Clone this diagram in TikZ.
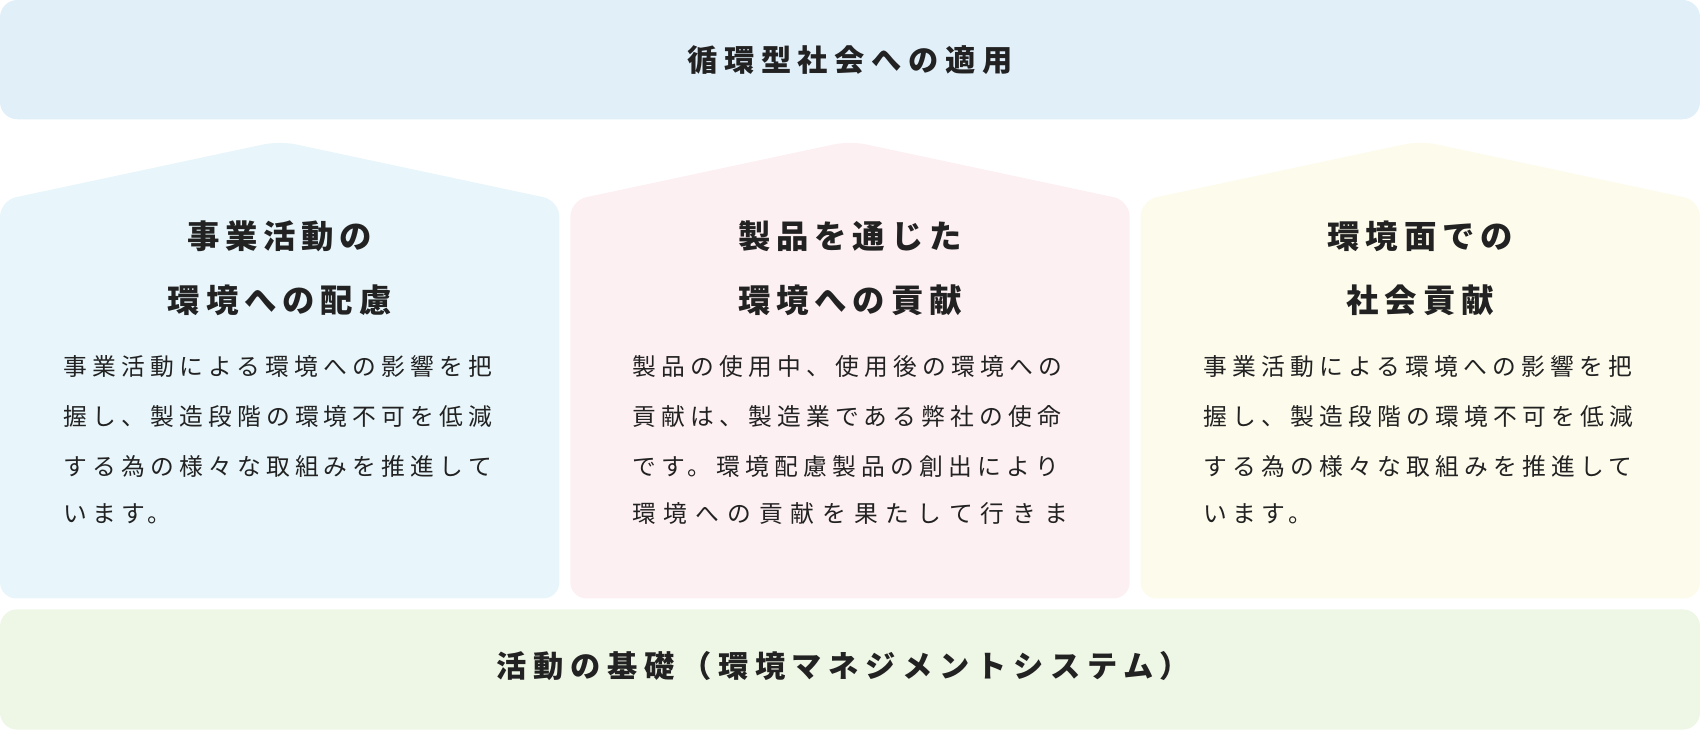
\documentclass[tikz,border=0pt]{standalone}
\usepackage{fontspec}
\setmainfont{Noto Sans CJK JP}
\definecolor{topc}{HTML}{E1EFF9}
\definecolor{bluec}{HTML}{E8F6FB}
\definecolor{pinkc}{HTML}{FDF0F3}
\definecolor{yelc}{HTML}{FDFBEC}
\definecolor{greenc}{HTML}{EEF6E6}
\definecolor{txt}{HTML}{222222}
\tikzset{
 bar/.style={rounded corners=16bp},
 house/.style={rounded corners=15bp},
 bigt/.style={text=txt,font=\fontsize{28}{30}\selectfont\bfseries\addfontfeature{LetterSpace=22},inner sep=0},
 htitle/.style={text=txt,font=\fontsize{30}{32}\selectfont\bfseries\addfontfeature{LetterSpace=18},inner sep=0},
 body/.style={text=txt,font=\fontsize{22}{24}\selectfont\addfontfeature{LetterSpace=22},inner sep=0,anchor=west},
}
\begin{document}
\begin{tikzpicture}[x=1bp,y=-1bp]
\useasboundingbox (0,0) rectangle (1568,673);
\fill[topc,bar] (0,0) rectangle (1568,110);
\fill[greenc,bar] (0,562) rectangle (1568,673);
\fill[bluec,house] (0,552)--(0,185)--(258,130)--(516,185)--(516,552)--cycle;
\fill[pinkc,house] (526,552)--(526,185)--(784,130)--(1042,185)--(1042,552)--cycle;
\fill[yelc,house] (1052,552)--(1052,185)--(1310,130)--(1568,185)--(1568,552)--cycle;
\node[bigt] (top) at (784,55) {循環型社会への適用};
\node[bigt] (bot) at (778,614) {活動の基礎（環境マネジメントシステム）};
\node[htitle] (t1a) at (258,218) {事業活動の};
\node[htitle] (t1b) at (258,277) {環境への配慮};
\node[htitle] (t2a) at (784,218) {製品を通じた};
\node[htitle] (t2b) at (784,277) {環境への貢献};
\node[htitle] (t3a) at (1310,218) {環境面での};
\node[htitle] (t3b) at (1310,277) {社会貢献};
\foreach \x/\n in {58/a,1110/c}{
 \node[body] (\n1) at (\x,338) {事業活動による環境への影響を把};
 \node[body] (\n2) at (\x,384) {握し、製造段階の環境不可を低減};
 \node[body] (\n3) at (\x,430) {する為の様々な取組みを推進して};
 \node[body] (\n4) at (\x,474) {います。};
}
\node[body] (b1) at (583,338) {製品の使用中、使用後の環境への};
\node[body] (b2) at (583,384) {貢献は、製造業である弊社の使命};
\node[body] (b3) at (583,430) {です。環境配慮製品の創出により};
\node[body] (b4) at (583,474) {\makebox[402bp][s]{環\hfill 境\hfill へ\hfill の\hfill 貢\hfill 献\hfill を\hfill 果\hfill た\hfill し\hfill て\hfill 行\hfill き\hfill ま}};
\end{tikzpicture}
\end{document}
